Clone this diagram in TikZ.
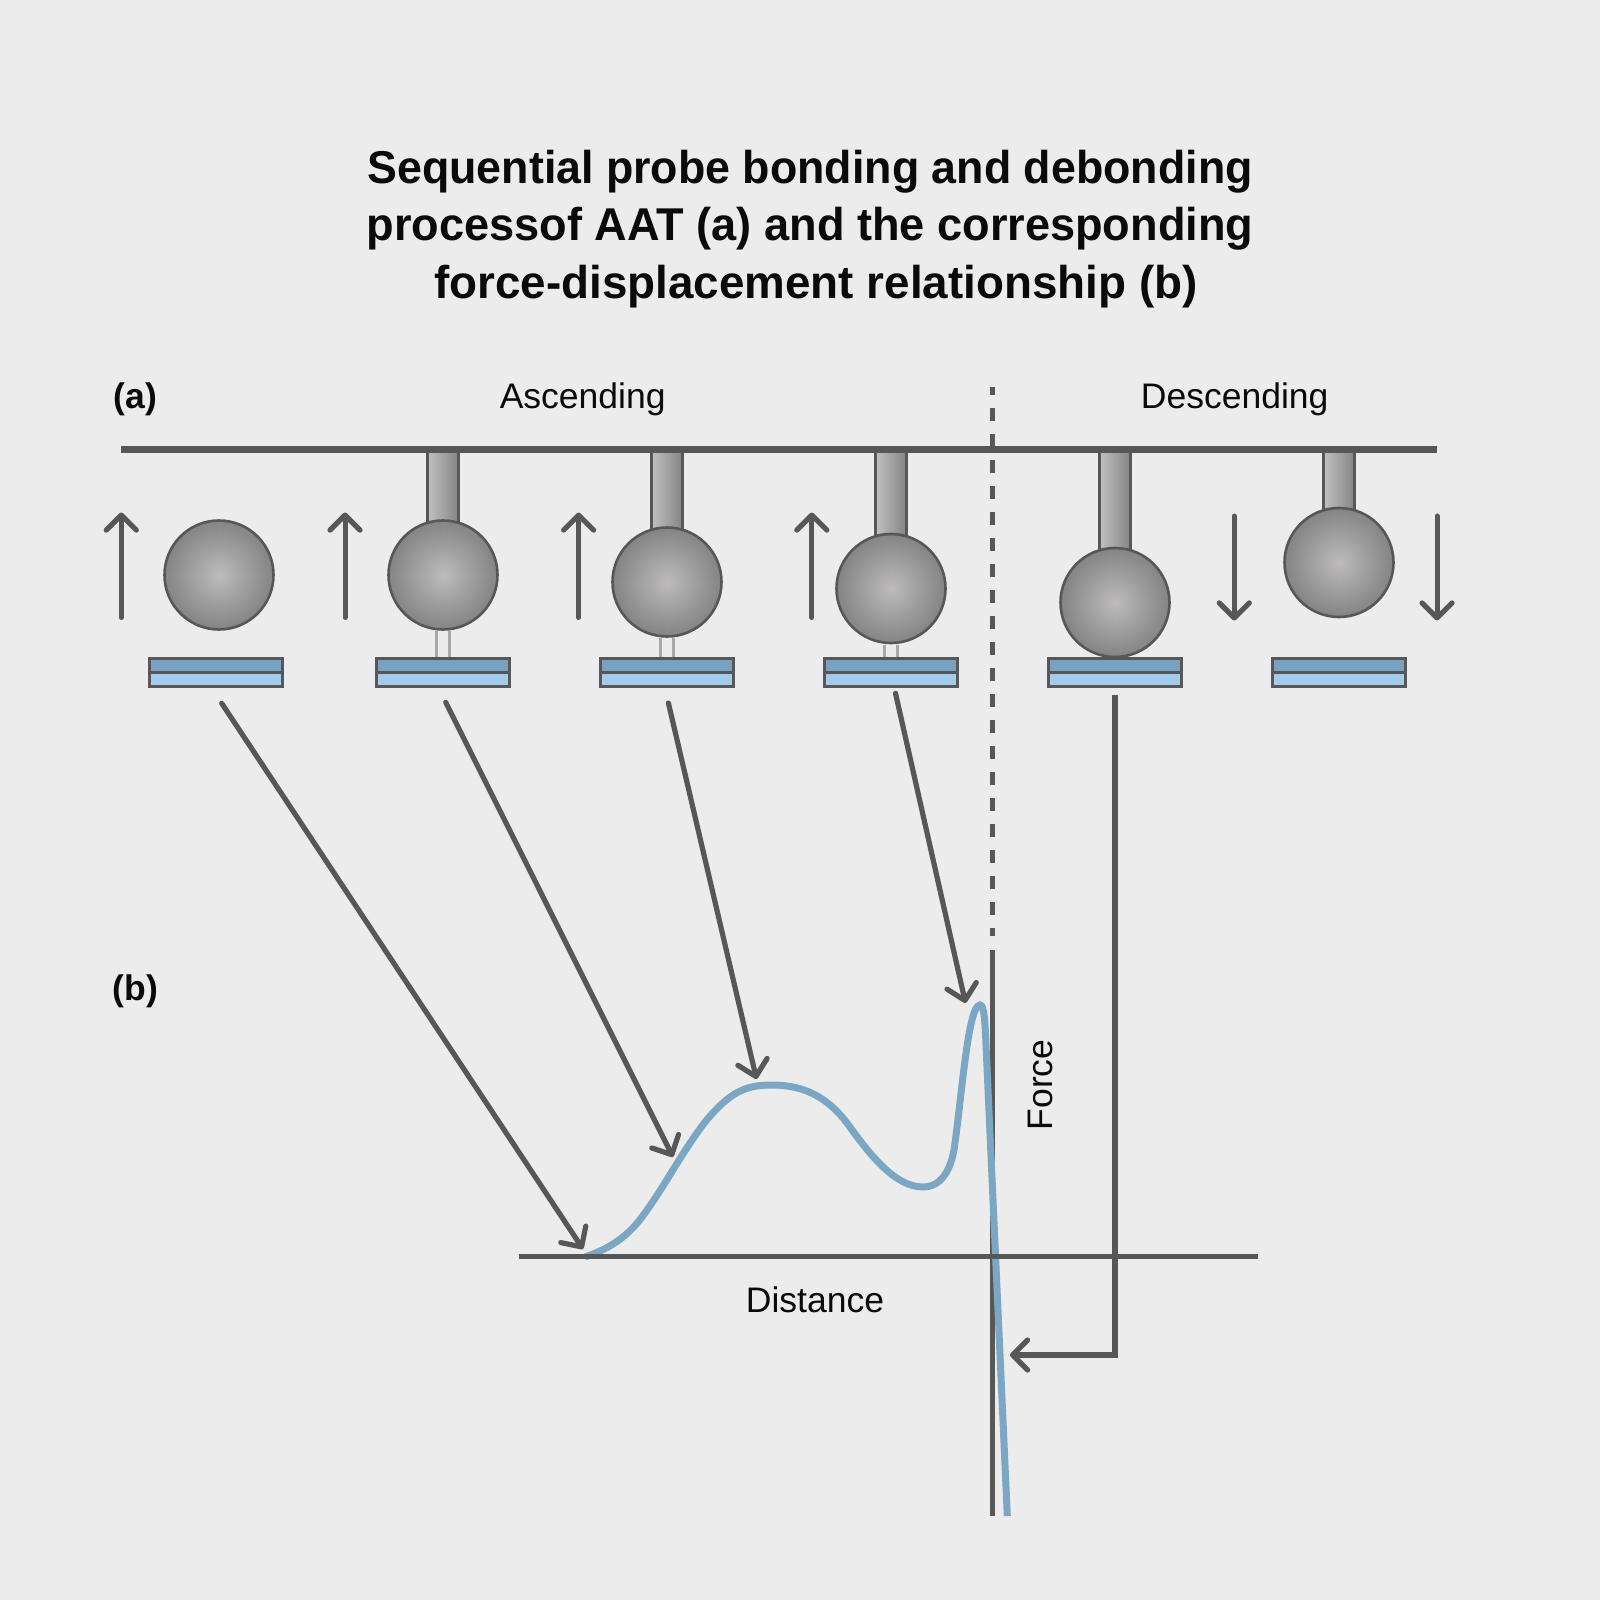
\documentclass[tikz,border=0pt]{standalone}
\usepackage{fontspec}
\setmainfont{Liberation Sans}
\usetikzlibrary{arrows.meta}
\definecolor{bgc}{HTML}{ECECEC}
\definecolor{ink}{HTML}{575757}
\definecolor{curvec}{HTML}{7BA6C4}
\definecolor{topc}{HTML}{78A2C2}
\definecolor{botc}{HTML}{A3CCEC}
\definecolor{linkc}{HTML}{A8A8A8}
\definecolor{txt}{HTML}{0A0A0A}
\definecolor{stemL}{HTML}{C2C0C0}
\definecolor{stemR}{HTML}{858585}
\definecolor{ballI}{HTML}{BDBBBB}
\definecolor{ballO}{HTML}{848484}
\tikzset{
  x=1pt,y=-1pt,
  barb/.tip={Straight Barb[length=15pt,width=30pt,round,line width=5.2pt]},
  movearrow/.style={draw=ink,line width=5pt,line cap=round,-{barb}},
  linkarrow/.style={draw=ink,line width=5.2pt,line cap=round,-{barb}},
  stemshape/.style={draw=ink,line width=2.2pt,left color=stemL,right color=stemR},
  ballshape/.style={circle,draw=ink,line width=2.6pt,minimum size=109pt,inner sep=0pt,inner color=ballI,outer color=ballO},
  bond/.style={draw=linkc,line width=3.2pt},
  small/.style={text=txt,font=\fontsize{35.5}{40}\selectfont,inner sep=0pt},
  tag/.style={text=txt,font=\fontsize{35.5}{40}\selectfont\bfseries,inner sep=0pt},
}
\newcommand{\substrate}[1]{%
  \fill[topc] (#1-67,658.5) rectangle (#1+67,672);
  \fill[botc] (#1-67,672) rectangle (#1+67,686.5);
  \draw[ink,line width=3pt] (#1-66.5,658.8) rectangle (#1+66.5,686.3);
  \draw[ink,line width=3pt] (#1-66.5,672.4) -- (#1+66.5,672.4);
}
\newcommand{\probe}[3]{% x, ball y, name
  \path[stemshape] (#1-15.5,452) rectangle (#1+15.5,#2-40);
  \node[ballshape] (#3) at (#1,#2) {};
}
\begin{document}
\begin{tikzpicture}
\useasboundingbox (0,0) rectangle (1600,1600);
\fill[bgc] (0,0) rectangle (1600,1600);

\node[text=txt,align=center,font=\fontsize{46}{57.5}\selectfont\bfseries,inner sep=0pt] (title) at (810,229)
  {{\addfontfeature{FakeStretch=0.973}Sequential probe bonding and debonding}\\
   {\addfontfeature{FakeStretch=0.981}processof AAT (a) and the corresponding}\\
   \hspace*{12pt}{\addfontfeature{FakeStretch=0.995}force-displacement relationship (b)}};
\node[tag] (laba) at (135.5,399) {(a)};
\node[tag] (labb) at (135.5,991) {(b)};
\node[small] (asc) at (582.7,399) {Ascending};
\node[small] (desc) at (1234.7,399) {Descending};
\node[small] (dist) at (815,1300) {Distance};
\node[small,rotate=90] (force) at (1040,1085) {Force};

% dashed divider
\coordinate (dashtop) at (992.5,387.4);
\coordinate (dashbot) at (992.5,936);
\draw[ink,line width=5.2pt,dash pattern=on 12.7pt off 13.3pt,dash phase=5pt] (dashtop) -- (dashbot);

% stems and balls
\probe{443}{575}{b2}
\probe{667}{582}{b3}
\probe{891}{588.5}{b4}
\probe{1115}{602.5}{b5}
\probe{1339}{562.5}{b6}
\node[ballshape] (b1) at (219,575) {};

% top bar
\coordinate (barL) at (121,449.3);
\coordinate (barR) at (1437,449.3);
\draw[ink,line width=7.4pt] (barL) -- (barR);

% bonds
\foreach \cx/\ytop in {443/631,667/638,891/644.5}{
  \draw[bond] (\cx-6.4,\ytop) -- (\cx-6.4,657);
  \draw[bond] (\cx+6.4,\ytop) -- (\cx+6.4,657);
}

% substrates
\substrate{216.3}
\substrate{443.3}
\substrate{667}
\substrate{891}
\substrate{1115}
\substrate{1339}

% motion arrows
\foreach \n/\ax in {u1/121.3,u2/345,u3/578.6,u4/811.8}{
  \coordinate (\n s) at (\ax,617.5);
  \coordinate (\n e) at (\ax,512.5);
  \draw[movearrow] (\n s) -- (\n e);
}
\foreach \n/\ax in {d1/1234.3,d2/1437}{
  \coordinate (\n s) at (\ax,516);
  \coordinate (\n e) at (\ax,620.5);
  \draw[movearrow] (\n s) -- (\n e);
}

% vertical axis, below the curve
\coordinate (ayT) at (992.8,950);
\coordinate (ayB) at (992.8,1516);
\draw[ink,line width=5.2pt] (ayT) -- (ayB);

% force curve
\draw[curvec,line width=7pt]
 (585,1257) .. controls (605,1250) and (625,1240) .. (642,1217)
 .. controls (665,1186) and (680,1155) .. (705,1122)
 .. controls (730,1092) and (745,1085) .. (772,1085)
 .. controls (805,1085) and (828,1098) .. (847,1123)
 .. controls (870,1155) and (895,1187) .. (923,1187)
 .. controls (940,1187) and (950,1172) .. (954,1150)
 .. controls (962,1095) and (968,1005) .. (980,1005)
 .. controls (984,1005) and (985,1020) .. (986,1045)
 -- (1007.3,1516);

% horizontal axis, above the curve
\coordinate (axL) at (518.6,1256.7);
\coordinate (axR) at (1258,1256.7);
\draw[ink,line width=5pt] (axL) -- (axR);

% long arrows
\coordinate (a1s) at (221.7,703.3);
\coordinate (a1e) at (583,1249);
\coordinate (a2s) at (445.7,702.3);
\coordinate (a2e) at (673,1157);
\coordinate (a3s) at (668.4,703);
\coordinate (a3e) at (756.5,1079);
\coordinate (a4s) at (895.5,693.3);
\coordinate (a4e) at (965.5,1003);
\draw[linkarrow] (a1s) -- (a1e);
\draw[linkarrow] (a2s) -- (a2e);
\draw[linkarrow] (a3s) -- (a3e);
\draw[linkarrow] (a4s) -- (a4e);
\coordinate (a5s) at (1115,695.3);
\coordinate (a5c) at (1115,1355);
\coordinate (a5e) at (1010,1355);
\draw[linkarrow,line cap=butt] (a5s) -- (a5c) -- (a5e);
\end{tikzpicture}
\end{document}
